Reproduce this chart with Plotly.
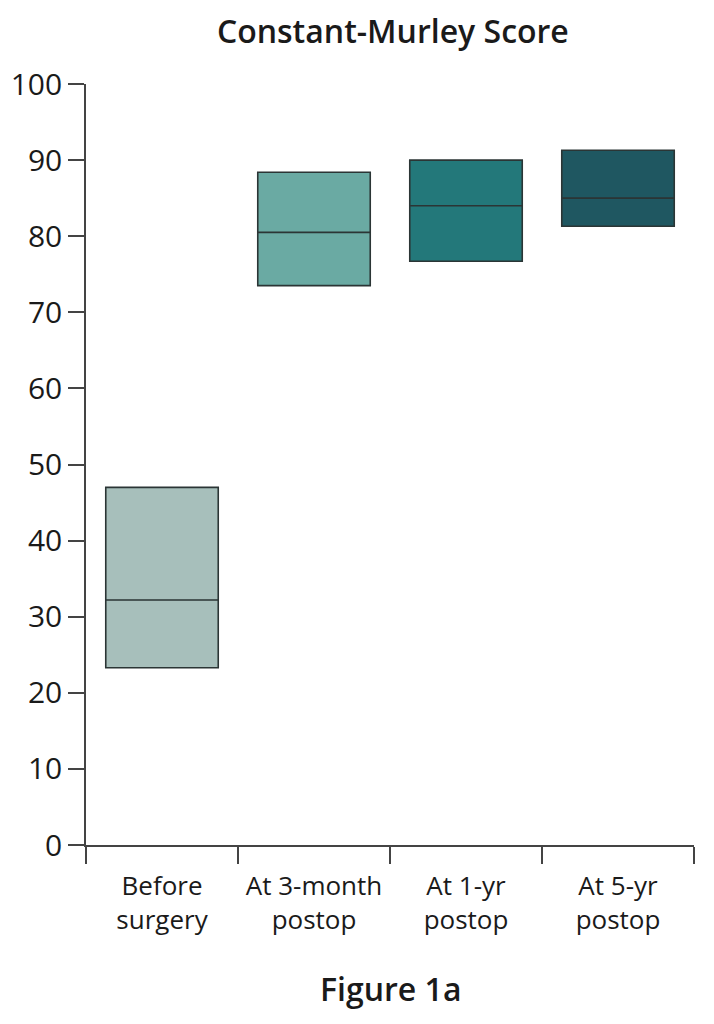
import plotly.graph_objects as go

# data
groups = ['Before<br>surgery', 'At 3-month<br>postop', 'At 1-yr<br>postop', 'At 5-yr<br>postop']
q1_vals = [23.3, 73.5, 76.7, 81.3]
median_vals = [32.2, 80.5, 84.0, 85.0]
q3_vals = [47.0, 88.4, 90.0, 91.3]
box_colors = ['#a7bfbb', '#6aaaa3', '#23787a', '#1f5761']
y_ticks = [0, 10, 20, 30, 40, 50, 60, 70, 80, 90, 100]

edge = '#2b3535'
font_family = 'Open Sans, Noto Sans, sans-serif'

fig = go.Figure()
for i, g in enumerate(groups):
    fig.add_trace(go.Box(
        x=[g],
        q1=[q1_vals[i]],
        median=[median_vals[i]],
        q3=[q3_vals[i]],
        lowerfence=[q1_vals[i]],
        upperfence=[q3_vals[i]],
        width=0.74,
        whiskerwidth=0,
        fillcolor=box_colors[i],
        line=dict(color=edge, width=1.6),
        boxpoints=False,
        showlegend=False,
        hoverinfo='skip',
    ))

# page body has an 8px margin, so margins are shifted by that amount
fig.update_layout(
    width=714,
    height=1024,
    margin=dict(l=78, r=28, t=76, b=187, autoexpand=False),
    plot_bgcolor='white',
    paper_bgcolor='white',
    font=dict(family=font_family, color='#1a1a1a'),
    title=dict(
        text='Constant-Murley Score',
        x=0.539, xanchor='center',
        y=0.9765, yanchor='middle',
        font=dict(size=32, family=font_family, color='#1a1a1a', weight=600),
    ),
    xaxis=dict(
        type='category',
        categoryorder='array',
        categoryarray=groups,
        range=[-0.5, 3.5],
        tickson='boundaries',
        ticks='outside',
        ticklen=17,
        tickwidth=1.6,
        tickcolor='#444',
        showline=True,
        linecolor='#444',
        linewidth=1.6,
        showgrid=False,
        zeroline=False,
        automargin=False,
        ticklabelstandoff=17,
        tickfont=dict(size=26, color='#1a1a1a', weight=530),
    ),
    yaxis=dict(
        range=[0, 100],
        tickvals=y_ticks,
        ticks='outside',
        ticklen=16,
        tickwidth=1.6,
        tickcolor='#444',
        showline=True,
        linecolor='#444',
        linewidth=1.6,
        showgrid=False,
        zeroline=False,
        automargin=False,
        ticklabelstandoff=0,
        tickfont=dict(size=30, color='#1a1a1a'),
    ),
)

fig.add_annotation(
    text='Figure 1a',
    xref='paper', yref='paper',
    x=0.5, y=-0.189,
    xanchor='center', yanchor='middle',
    showarrow=False,
    font=dict(size=32, family=font_family, color='#1a1a1a', weight=600),
)

fig.write_html('out.html')
